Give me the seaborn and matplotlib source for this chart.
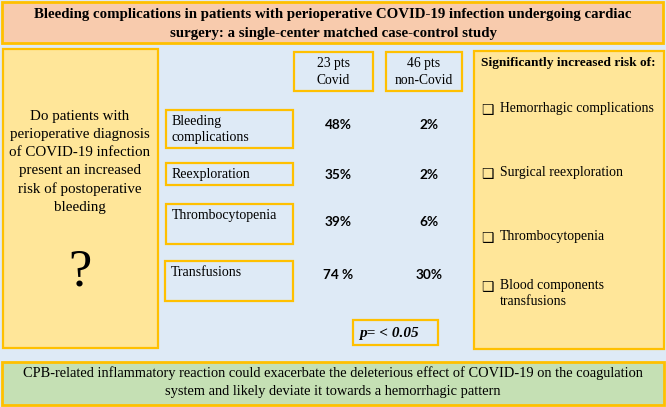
import matplotlib
matplotlib.use("Agg")
import matplotlib.pyplot as plt
import matplotlib.patches as mpatches
import seaborn as sns

# text content
title = ("Bleeding complications in patients with perioperative COVID-19 infection undergoing cardiac\n"
         "surgery: a single-center matched case-control study")
question = ("Do patients with\nperioperative diagnosis\nof COVID-19 infection\n"
            "present an increased\nrisk of postoperative\nbleeding")
groups = ["23 pts\nCovid", "46 pts\nnon-Covid"]
outcomes = ["Bleeding\ncomplications", "Reexploration", "Thrombocytopenia", "Transfusions"]
covid_pct = ["48%", "35%", "39%", "74 %"]
noncovid_pct = ["2%", "2%", "6%", "30%"]
p_value = "p= < 0.05"
risk_header = "Significantly increased risk of:"
risks = ["Hemorrhagic complications", "Surgical reexploration", "Thrombocytopenia",
         "Blood components\ntransfusions"]
conclusion = ("CPB-related inflammatory reaction could exacerbate the deleterious effect of COVID-19 on the coagulation\n"
              "system and likely deviate it towards a hemorrhagic pattern")

sns.set_theme(style="white")
plt.rcParams["font.family"] = ["Liberation Serif", "DejaVu Sans"]
plt.rcParams["text.color"] = "black"

BORDER = "#FFC000"
BLUE = "#DEEAF6"
YELLOW = "#FFE699"
SALMON = "#F8CBAD"
GREEN = "#C5E0B4"

fig = plt.figure(figsize=(6.66, 4.07), dpi=100)
ax = fig.add_axes([0, 0, 1, 1])
ax.set_xlim(0, 666)
ax.set_ylim(407, 0)
ax.axis("off")


def box(x0, y0, x1, y1, fc, lw=1.6):
    ax.add_patch(mpatches.Rectangle((x0, y0), x1 - x0, y1 - y0, facecolor=fc,
                                    edgecolor=BORDER, linewidth=lw))


# background
ax.add_patch(mpatches.Rectangle((0, 0), 666, 407, facecolor=BLUE, edgecolor="none"))

# title
box(2, 1.5, 663, 43, SALMON, lw=2)
ax.text(333, 24, title, ha="center", va="center", fontsize=10.7, fontweight="bold",
        linespacing=1.65)

# left question panel
box(3, 49, 158, 348, YELLOW)
ax.text(80, 162, question, ha="center", va="center", fontsize=10.8, linespacing=1.5)
ax.text(80, 273, "?", ha="center", va="center", fontsize=38)

# column headers
head_boxes = [(294, 52, 373, 91), (386, 52, 462, 91)]
for (x0, y0, x1, y1), g in zip(head_boxes, groups):
    box(x0, y0, x1, y1, BLUE)
    ax.text((x0 + x1) / 2, (y0 + y1) / 2 + 1, g, ha="center", va="center", fontsize=9.8,
            linespacing=1.4)

# outcome rows
row_boxes = [(166, 110, 293, 148), (166, 163, 293, 185), (166, 204, 293, 244),
             (165, 261, 293, 301)]
row_y = [125, 175, 222, 275]
for (x0, y0, x1, y1), lab, cv, nv, ry in zip(row_boxes, outcomes, covid_pct, noncovid_pct, row_y):
    box(x0, y0, x1, y1, BLUE)
    ax.text(x0 + 6, y0 + 5, lab, ha="left", va="top", fontsize=10, linespacing=1.35)
    ax.text(338, ry, cv, ha="center", va="center", fontsize=9.8, fontweight="bold",
            family="Lato")
    ax.text(429, ry, nv, ha="center", va="center", fontsize=9.8, fontweight="bold",
            family="Lato")

# p value
box(353, 320, 438, 345, BLUE)
ax.text(359, 333, p_value, ha="left", va="center", fontsize=11, fontweight="bold",
        style="italic")

# right panel
box(474, 51, 664, 349, YELLOW)
ax.text(481, 63, risk_header, ha="left", va="center", fontsize=9.6, fontweight="bold")
risk_y = [110, 174, 238, 287]
for r, ry in zip(risks, risk_y):
    ax.text(481, ry, "\u2751", ha="left", va="center", fontsize=10,
            family=["DejaVu Sans"])
    ax.text(500, ry - 8, r, ha="left", va="top", fontsize=9.9, linespacing=1.3)

# conclusion
box(2, 362, 664, 405, GREEN, lw=2)
ax.text(333, 382, conclusion, ha="center", va="center", fontsize=10.4, linespacing=1.5)

fig.savefig("out.png", dpi=100)
